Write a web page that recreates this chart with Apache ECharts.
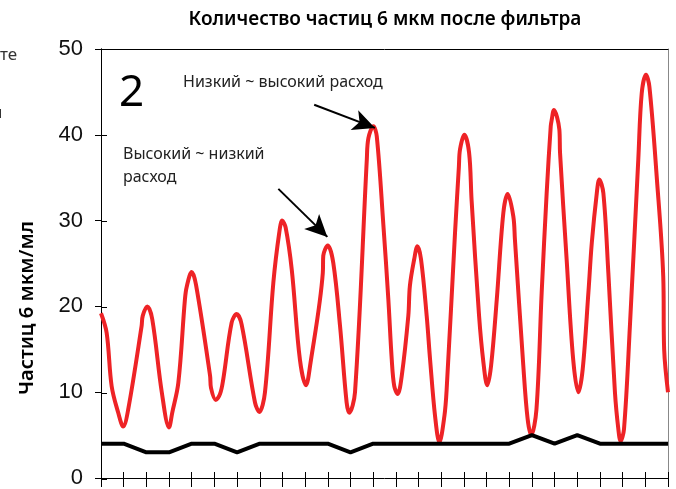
<!DOCTYPE html>
<html><head><meta charset="utf-8">
<script src="https://cdn.jsdelivr.net/npm/echarts@6/dist/echarts.min.js"></script>
<style>html,body{margin:0;padding:0;background:#fff}#c{width:676px;height:489px}</style>
</head><body><div id="c"></div>
<script>
const titleText = 'Количество частиц 6 мкм после фильтра';
const yAxisName = 'Частиц 6 мкм/мл';
const yTicks = [0, 10, 20, 30, 40, 50];
const blackX = [0,1,2,3,4,5,6,7,8,9,10,11,12,13,14,15,16,17,18,19,20,21,22,23,24,25];
const blackY = [4,4,3,3,4,4,3,4,4,4,4,3,4,4,4,4,4,4,4,5,4,5,4,4,4,4];
const redX = [0,0.25,0.47,0.76,0.98,1.2,1.79,1.84,2.04,2.26,2.68,3.0,3.14,3.41,3.7,3.78,4.0,4.19,4.81,4.85,5.06,5.25,5.39,5.76,5.98,6.2,6.79,6.98,7.23,7.6,7.86,7.99,8.14,8.41,8.77,9.04,9.22,9.78,9.8,10.0,10.24,10.54,10.83,10.95,11.2,11.72,11.79,12.01,12.16,12.45,12.67,12.82,12.93,13.08,13.26,13.55,13.62,13.81,13.95,14.11,14.36,14.51,14.73,14.92,15.14,15.24,15.61,15.78,15.83,16.02,16.23,16.34,16.67,16.86,17.03,17.2,17.45,17.74,17.93,18.18,18.25,18.62,18.81,18.97,19.2,19.43,19.65,19.83,19.87,19.97,20.21,20.24,20.53,20.82,21.05,21.24,21.49,21.64,21.86,21.97,22.15,22.37,22.66,22.81,22.91,23.06,23.32,23.69,23.84,24.03,24.18,24.5,24.79,24.83,25.0];
const redY = [19.2,16.9,10.7,7.6,6.0,8.0,17.7,18.9,20.0,18.5,10.0,5.9,7.6,11.1,20.8,22.3,24.0,22.5,11.9,10.5,9.1,9.8,11.5,18.1,19.1,17.9,8.8,7.7,10.0,22.8,28.6,30.0,29.2,24.3,13.8,10.8,13.1,23.9,25.9,27.1,25.1,17.7,8.8,7.6,10.0,37.1,39.6,41.0,39.8,29.5,20.8,13.8,10.7,9.8,11.9,18.9,22.4,25.5,27.0,25.5,18.9,13.8,7.2,4.15,7.2,10.3,28.6,36.3,38.3,40.0,37.9,32.4,18.9,13.5,10.8,13.1,20.8,30.9,33.1,30.5,27.8,13.1,6.9,5.0,8.0,21.6,33.2,41.0,41.7,42.9,40.6,37.9,25.5,13.8,10.0,12.7,21.6,27.4,33.2,34.8,33.2,23.9,10.0,5.7,4.3,5.7,17.7,37.1,44.8,47.0,45.6,35.2,23.5,15.0,10.0];
const annotations = [
  {text: 'Низкий ~ высокий расход', from: [9.40, 43.5], to: [12.08, 40.8]},
  {text: 'Высокий ~ низкий\nрасход', from: [7.82, 33.7], to: [9.98, 28.1]}
];

const chart = echarts.init(document.getElementById('c'), null, {renderer: 'canvas'});
const gridBox = {left: 101, right: 8, top: 49, bottom: 10};
const tickFont = {fontFamily: 'Liberation Sans', fontSize: 22, color: '#111'};

chart.setOption({
  animation: false,
  backgroundColor: '#fff',
  grid: [Object.assign({}, gridBox), Object.assign({}, gridBox)],
  xAxis: [
    {gridIndex: 0, type: 'value', min: 0, max: 25, interval: 1, position: 'bottom',
     axisLine: {show: true, onZero: false, lineStyle: {color: '#000', width: 1}},
     axisTick: {show: true, inside: false, length: 9, lineStyle: {color: '#000', width: 1}},
     axisLabel: {show: false}, splitLine: {show: false}},
    {gridIndex: 1, type: 'value', min: 0, max: 25, interval: 1, position: 'bottom',
     axisLine: {show: false, onZero: false},
     axisTick: {show: true, inside: true, length: 7, lineStyle: {color: '#000', width: 1}},
     axisLabel: {show: false}, splitLine: {show: false}},
    {gridIndex: 1, type: 'value', min: 0, max: 25, interval: 1, position: 'top',
     axisLine: {show: true, onZero: false, lineStyle: {color: '#000', width: 1}},
     axisTick: {show: false}, axisLabel: {show: false}, splitLine: {show: false}}
  ],
  yAxis: [
    {gridIndex: 0, type: 'value', min: 0, max: 50, interval: 10, position: 'left',
     axisLine: {show: true, onZero: false, lineStyle: {color: '#000', width: 1}},
     axisTick: {show: true, inside: false, length: 6, lineStyle: {color: '#000', width: 1}},
     axisLabel: Object.assign({show: true, margin: 18, formatter: v => yTicks.includes(v) ? String(v) : ''}, tickFont),
     splitLine: {show: false}},
    {gridIndex: 1, type: 'value', min: 0, max: 50, interval: 10, position: 'left',
     axisLine: {show: true, onZero: false, lineStyle: {color: '#000', width: 1}},
     axisTick: {show: true, inside: true, length: 6, lineStyle: {color: '#000', width: 1}},
     axisLabel: {show: false}, splitLine: {show: false}},
    {gridIndex: 1, type: 'value', min: 0, max: 50, interval: 10, position: 'right',
     axisLine: {show: true, onZero: false, lineStyle: {color: '#888', width: 1}},
     axisTick: {show: false}, axisLabel: {show: false}, splitLine: {show: false}}
  ],
  series: [
    {type: 'line', xAxisIndex: 0, yAxisIndex: 0, data: redX.map((x, i) => [x, redY[i]]),
     smooth: 0.35, showSymbol: false, symbol: 'none', z: 2,
     lineStyle: {color: '#ee2326', width: 4}},
    {type: 'line', xAxisIndex: 0, yAxisIndex: 0, data: blackX.map((x, i) => [x, blackY[i]]),
     showSymbol: false, symbol: 'none', z: 3,
     lineStyle: {color: '#000', width: 4},
     markLine: {silent: true, symbol: ['none', 'arrow'], symbolSize: [16, 22],
       label: {show: false}, emphasis: {disabled: true},
       lineStyle: {color: '#000', width: 2, type: 'solid'},
       data: annotations.map(a => [{coord: a.from}, {coord: a.to}])}}
  ],
  graphic: [
    {type: 'text', x: 385, y: 20, style: {text: titleText, align: 'center', verticalAlign: 'middle',
      font: '600 19px "Noto Sans"', fill: '#000'}},
    {type: 'text', x: 27, y: 308, rotation: Math.PI / 2, style: {text: yAxisName, align: 'center', verticalAlign: 'middle',
      font: '600 20px "Noto Sans"', fill: '#000'}},
    {type: 'text', x: 0, y: 55, style: {text: 'те', align: 'left', verticalAlign: 'middle', font: '17px "Noto Sans"', fill: '#333'}},
    {type: 'text', x: -8, y: 113, style: {text: 'н', align: 'left', verticalAlign: 'middle', font: '17px "Noto Sans"', fill: '#333'}},
    {type: 'text', x: 119, y: 93, style: {text: '2', align: 'left', verticalAlign: 'middle', font: '44px "Noto Sans"', fill: '#000'}},
    {type: 'text', x: 183, y: 82, style: {text: annotations[0].text, align: 'left', verticalAlign: 'middle', font: '16px "Noto Sans"', fill: '#222'}},
    {type: 'text', x: 123, y: 166, style: {text: annotations[1].text, align: 'left', verticalAlign: 'middle', font: '16px "Noto Sans"', lineHeight: 23, fill: '#222'}}
  ]
});
</script>
</body></html>
